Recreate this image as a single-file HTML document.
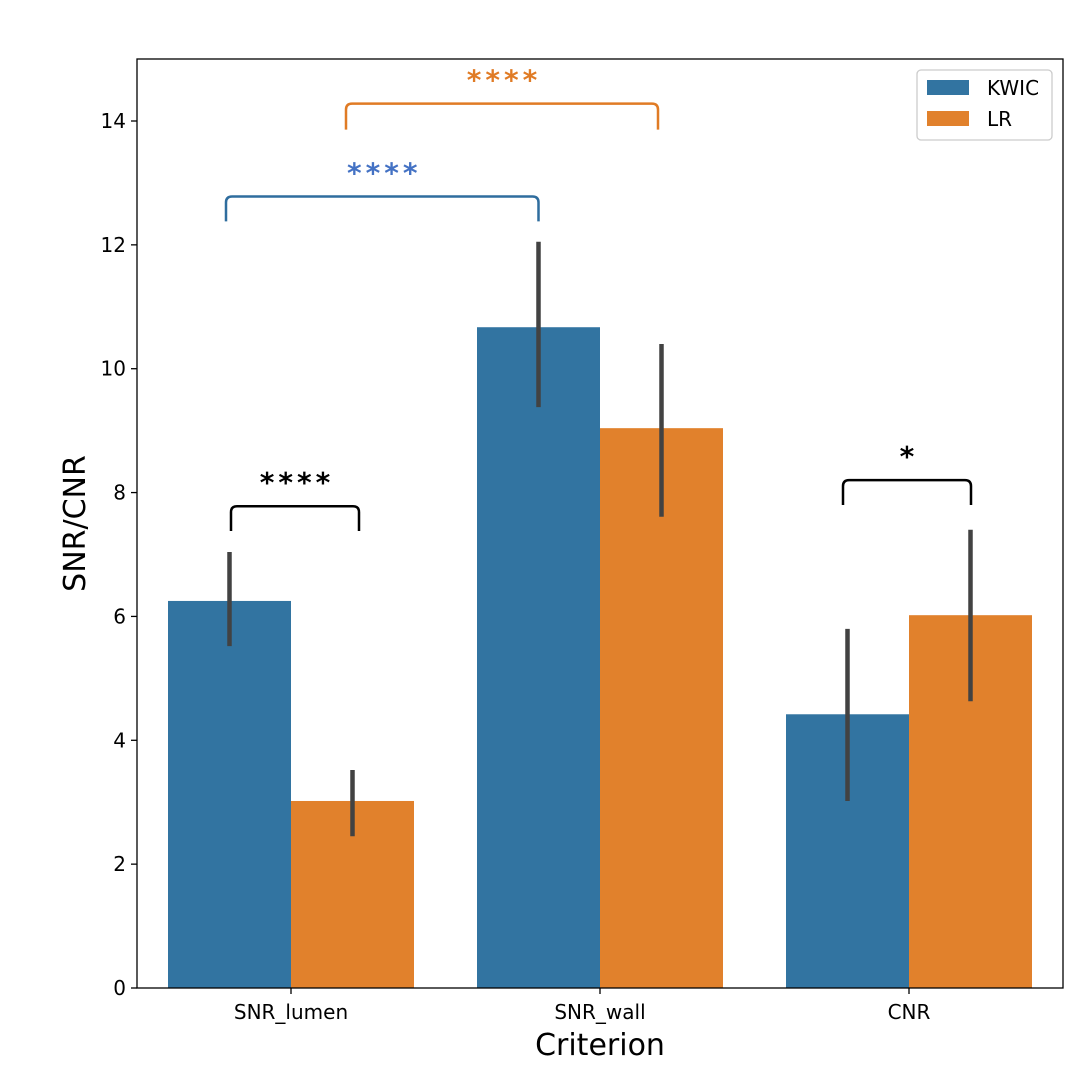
<!DOCTYPE html>
<html><head><meta charset="utf-8"><style>
body{margin:0;background:#fff}
svg{display:block;font-family:"DejaVu Sans","Liberation Sans",sans-serif}
</style></head><body>
<svg id="c" width="1088" height="1080"></svg>
<script>
const categories=["SNR_lumen","SNR_wall","CNR"];
const kwicValues=[6.25,10.67,4.42];
const lrValues=[3.02,9.04,6.02];
const kwicLow=[5.52,9.38,3.02];
const kwicHigh=[7.04,12.05,5.80];
const lrLow=[2.45,7.61,4.63];
const lrHigh=[3.52,10.40,7.40];
const yTicks=[0,2,4,6,8,10,12,14];
const brackets=[
 {g1:0,s1:0,g2:0,s2:1,y:7.78,base:7.38,label:"****",color:"#000",dx1:1.5,dx2:6.5},
 {g1:0,s1:0,g2:1,s2:0,y:12.78,base:12.38,label:"****",color:"#2f6d9e",dx1:-3.5,dx2:0},
 {g1:0,s1:1,g2:1,s2:1,y:14.28,base:13.86,label:"****",color:"#e07b25",dx1:-6.5,dx2:-3.5},
 {g1:2,s1:0,g2:2,s2:1,y:8.2,base:7.8,label:"*",color:"#000",dx1:-4.5,dx2:0.5}
];
const L=137,R=1063,T=59,B=988;
const y=v=>B-v*(B-121)/14;
const gc=i=>291+i*309;
const bw=123;
const xs=(g,s)=>gc(g)+(s===0?-bw/2:bw/2);
const svg=document.getElementById('c');
const NS="http://www.w3.org/2000/svg";
function mk(t,a,p){const e=document.createElementNS(NS,t);for(const k in a)e.setAttribute(k,a[k]);(p||svg).appendChild(e);return e;}
const series=[[kwicValues,kwicLow,kwicHigh,"#3274a1"],[lrValues,lrLow,lrHigh,"#e1812c"]];
series.forEach((s,si)=>{categories.forEach((c,i)=>{
 const x0=gc(i)+(si===0?-bw:0);
 const r=mk('rect',{x:x0,y:y(s[0][i]),width:bw,height:B-y(s[0][i]),fill:s[3]});
 
 
});});
series.forEach((s,si)=>{categories.forEach((c,i)=>{
 const xc=xs(i,si);
 const l=mk('line',{x1:xc,x2:xc,y1:y(s[1][i]),y2:y(s[2][i]),stroke:"#424242","stroke-width":4.5});
 
 
});});
brackets.forEach((b,i)=>{
 const x1=xs(b.g1,b.s1)+b.dx1,x2=xs(b.g2,b.s2)+b.dx2;
 const p=mk('path',{d:`M${x1} ${y(b.base)} L${x1} ${y(b.y)+6} Q${x1} ${y(b.y)} ${x1+6} ${y(b.y)} L${x2-6} ${y(b.y)} Q${x2} ${y(b.y)} ${x2} ${y(b.y)+6} L${x2} ${y(b.base)}`,fill:"none",stroke:b.color,"stroke-width":2.5});
 
 
 const t=mk('text',{x:(x1+x2)/2+2,y:y(b.y)-14,"text-anchor":"middle","font-size":28,"font-weight":"bold","letter-spacing":4,fill:b.color==="#2f6d9e"?"#4472c4":b.color});
 t.textContent=b.label;
 
 
});
const ax=mk('rect',{x:L,y:T,width:R-L,height:B-T,fill:"none",stroke:"#000","stroke-width":1.3});


yTicks.forEach(v=>{
 const tl=mk('line',{x1:L-6,x2:L,y1:y(v),y2:y(v),stroke:"#000","stroke-width":1.3});
 
 
 const t=mk('text',{x:L-11,y:y(v)+7,"text-anchor":"end","font-size":20});
 t.textContent=v;
 
 
});
categories.forEach((c,i)=>{
 const tl=mk('line',{x1:gc(i),x2:gc(i),y1:B,y2:B+6,stroke:"#000","stroke-width":1.3});
 
 
 const t=mk('text',{x:gc(i),y:B+31,"text-anchor":"middle","font-size":20});
 t.textContent=c;
 
 
});
const xt=mk('text',{x:600,y:1055,"text-anchor":"middle","font-size":30});
xt.textContent="Criterion";


const yt=mk('text',{x:0,y:0,"text-anchor":"middle","font-size":30,transform:`translate(85,${(T+B)/2}) rotate(-90)`});
yt.textContent="SNR/CNR";


const lg=mk('g',{});


mk('rect',{x:917,y:70,width:135,height:70,rx:4,fill:"#fff",stroke:"#ccc","stroke-width":1.3},lg);
[["KWIC","#3274a1"],["LR","#e1812c"]].forEach((e,i)=>{
 const g=mk('g',{},lg);
 
 
 mk('rect',{x:927,y:80+i*31,width:42,height:15,fill:e[1]},g);
 const t=mk('text',{x:987,y:95+i*31,"font-size":20},g);
 t.textContent=e[0];
});
</script>
</body></html>
